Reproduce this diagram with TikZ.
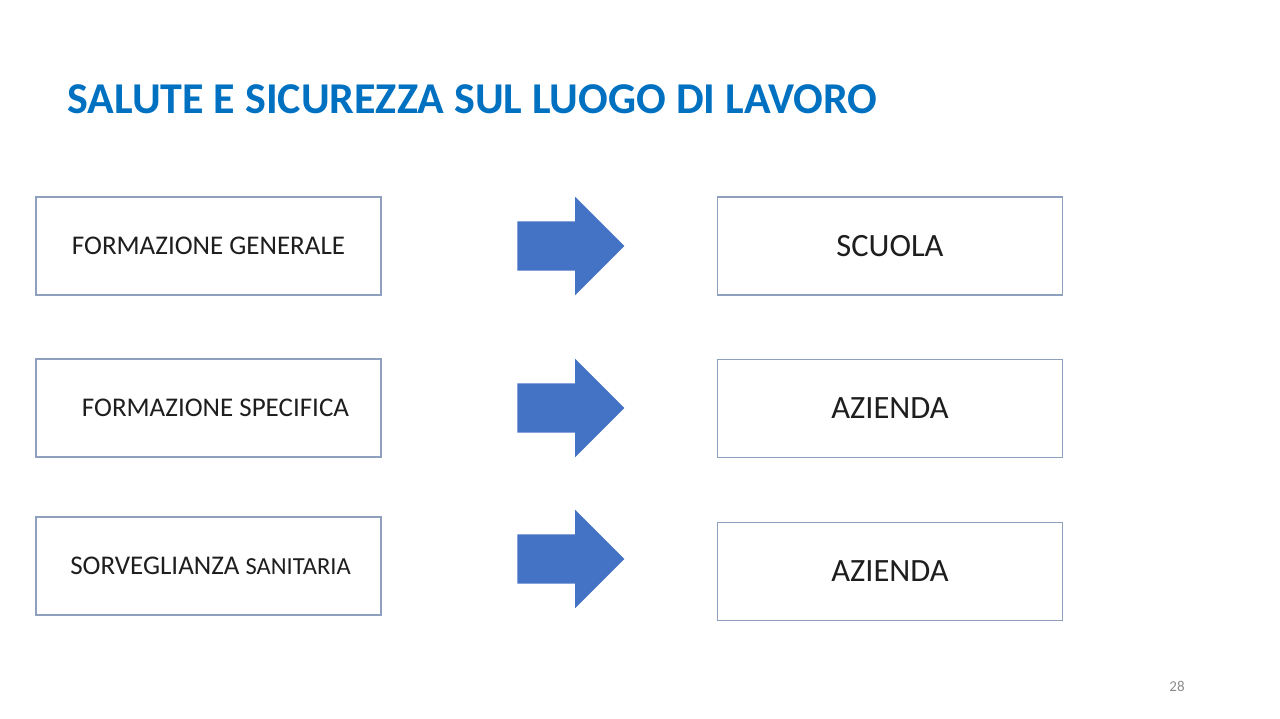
\documentclass[tikz,border=0pt]{standalone}
\usepackage{fontspec}
\setmainfont{Carlito}
\usetikzlibrary{shapes.arrows}
\definecolor{titleblue}{HTML}{0070C0}
\definecolor{arrowblue}{HTML}{4472C4}
\definecolor{boxline}{HTML}{8EA0BE}
\definecolor{boxtext}{HTML}{1E1E1E}
\definecolor{pagegray}{HTML}{8C8C8C}
\begin{document}
\begin{tikzpicture}[x=1pt,y=-1pt,
    box/.style={draw=boxline, line width=1.3pt, fill=white, inner sep=0pt,
      minimum width=345pt, minimum height=98pt, text=boxtext},
    lefttxt/.style={font=\fontsize{27}{31}\selectfont},
    righttxt/.style={font=\fontsize{32.5}{36}\selectfont},
    bigarrow/.style={single arrow, fill=arrowblue, draw=none, inner sep=0pt,
      minimum height=107pt, single arrow head extend=24.5pt,
      single arrow tip angle=90}]
    % Area della diapositiva
    \useasboundingbox (0,0) rectangle (1280,719);

    % Titolo
    \node[anchor=west, text=titleblue, font=\fontsize{44}{50}\selectfont\bfseries]
      (titolo) at (64,99) {SALUTE E SICUREZZA SUL LUOGO DI LAVORO};

    % Riga 1
    \node[box, lefttxt] (formgen) at (208.5,246) {FORMAZIONE GENERALE};
    \node[bigarrow] (freccia1) at (558.5,246) {\rule{0pt}{49pt}};
    \node[box, righttxt] (scuola) at (890,246) {SCUOLA};

    % Riga 2
    \node[box, lefttxt] (formspec) at (208.5,408) {\hspace{14pt}FORMAZIONE SPECIFICA};
    \node[bigarrow] (freccia2) at (558.5,408) {\rule{0pt}{49pt}};
    \node[box, righttxt] (azienda1) at (890,408.5) {AZIENDA};

    % Riga 3
    \node[box, lefttxt] (sorveglianza) at (208.5,566)
      {\hspace{4pt}SORVEGLIANZA {\fontsize{24.5}{28}\selectfont SANITARIA}};
    \node[bigarrow] (freccia3) at (558.5,559) {\rule{0pt}{49pt}};
    \node[box, righttxt] (azienda2) at (890,571.5) {AZIENDA};

    % Numero pagina
    \node[text=pagegray, font=\fontsize{15}{18}\selectfont] (pagina) at (1177,686) {28};
  \end{tikzpicture}
\end{document}
